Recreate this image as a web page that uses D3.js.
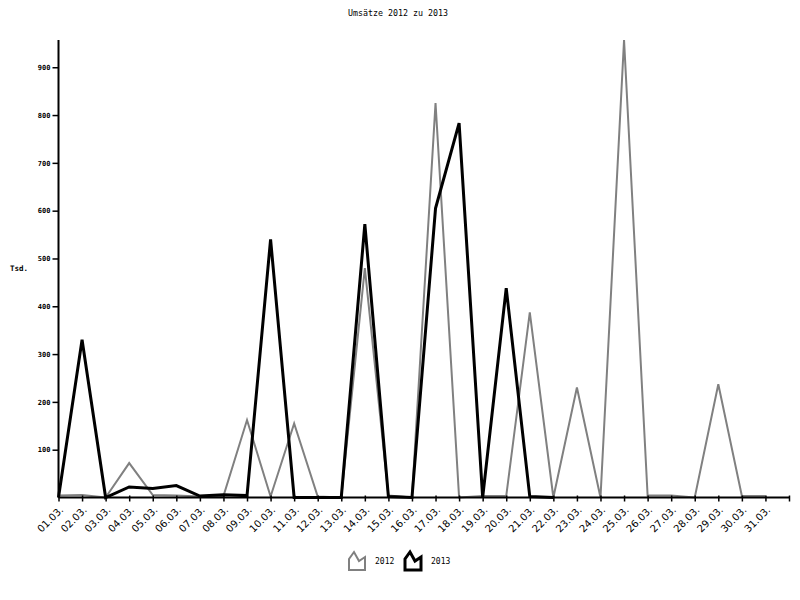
<!DOCTYPE html>
<html>
<head>
<meta charset="utf-8">
<script src="https://cdn.jsdelivr.net/npm/d3@7"></script>
<style>
  html, body { margin: 0; padding: 0; background: #fff; }
  svg { display: block; }
</style>
</head>
<body>
<svg id="chart" width="800" height="600"></svg>
<script>
const days = ["01.03.","02.03.","03.03.","04.03.","05.03.","06.03.","07.03.","08.03.","09.03.","10.03.",
  "11.03.","12.03.","13.03.","14.03.","15.03.","16.03.","17.03.","18.03.","19.03.","20.03.",
  "21.03.","22.03.","23.03.","24.03.","25.03.","26.03.","27.03.","28.03.","29.03.","30.03.","31.03."];
const sales2012 = [4, 5, 0, 72, 5, 4, 2, 3, 162, 2, 155, 2, 0, 480, 4, 0, 825, 0, 3, 3, 387, 0, 230, 0, 957, 4, 4, 0, 237, 3, 3];
const sales2013 = [0, 330, 0, 22, 19, 25, 3, 6, 4, 540, 0, 0, 0, 572, 2, 0, 605, 783, 0, 438, 2, 0];
const yTicks = [100, 200, 300, 400, 500, 600, 700, 800, 900];
const seriesNames = ["2012", "2013"];
const title = "Umsätze 2012 zu 2013";
const yTitle = "Tsd.";

const svg = d3.select("#chart");
const x0 = 58.5, x1 = 789, yBase = 497.5, yTop = 40;

const x = d3.scaleLinear().domain([0, days.length]).range([x0, x1]);
const y = d3.scaleLinear().domain([0, d3.max(sales2012.concat(sales2013))]).range([yBase, yTop]);

const line = d3.line().x((d, i) => x(i)).y(d => y(d));

svg.append("path").datum(sales2012)
  .attr("d", line).attr("fill", "none")
  .attr("stroke", "#808080").attr("stroke-width", 2).attr("stroke-linejoin", "miter");

svg.append("path").datum(sales2013)
  .attr("d", line).attr("fill", "none")
  .attr("stroke", "#000").attr("stroke-width", 3).attr("stroke-linejoin", "miter");

// Y axis
const yAxis = d3.axisLeft(y).tickValues(yTicks).tickSize(6).tickPadding(2).tickSizeOuter(0);
const gy = svg.append("g").attr("transform", `translate(${x0},0)`).call(yAxis);
gy.select(".domain").attr("stroke", "#000").attr("stroke-width", 2)
  .attr("d", `M0,${yTop}V${yBase}`);
gy.selectAll(".tick line").attr("stroke", "#000").attr("stroke-width", 1.5);
gy.selectAll(".tick text").attr("font-family", "DejaVu Sans Mono").attr("font-size", 7)
  .attr("font-weight", "bold").attr("fill", "#000");

// X axis
const xAxis = d3.axisBottom(x).tickValues(d3.range(days.length + 1))
  .tickFormat(i => days[i] || "").tickSize(4).tickSizeOuter(0);
const gx = svg.append("g").attr("transform", `translate(0,${yBase})`).call(xAxis);
gx.select(".domain").attr("stroke", "#000").attr("stroke-width", 2)
  .attr("d", `M${x0},0H${x1}`);
gx.selectAll(".tick line").attr("stroke", "#000").attr("stroke-width", 1.5).attr("y1", -2);
gx.selectAll(".tick text")
  .attr("font-family", "DejaVu Sans").attr("font-size", 10).attr("fill", "#000")
  .attr("text-anchor", "end").attr("dy", null).attr("y", 0)
  .attr("transform", "translate(5,13) rotate(-45)");

// Title
svg.append("text").attr("x", 398).attr("y", 16).attr("text-anchor", "middle")
  .attr("font-family", "DejaVu Sans Mono").attr("font-size", 8.3).attr("fill", "#000")
  .text(title);

// Y title
svg.append("text").attr("x", 10).attr("y", 271)
  .attr("font-family", "DejaVu Sans Mono").attr("font-size", 7.5).attr("font-weight", "bold").attr("fill", "#000")
  .text(yTitle);

// Legend
const icon = "M0,18 L0,7 L5,0 L10,9 L16,5 L16,18 Z";
const legend = [
  {name: seriesNames[0], color: "#808080", w: 2, x: 349, tx: 375},
  {name: seriesNames[1], color: "#000", w: 3, x: 405, tx: 431}
];
legend.forEach(l => {
  svg.append("path").attr("d", icon).attr("transform", `translate(${l.x},552)`)
    .attr("fill", "none").attr("stroke", l.color).attr("stroke-width", l.w);
  svg.append("text").attr("x", l.tx).attr("y", 564)
    .attr("font-family", "DejaVu Sans Mono").attr("font-size", 8).attr("fill", "#000")
    .text(l.name);
});
</script>
</body>
</html>
